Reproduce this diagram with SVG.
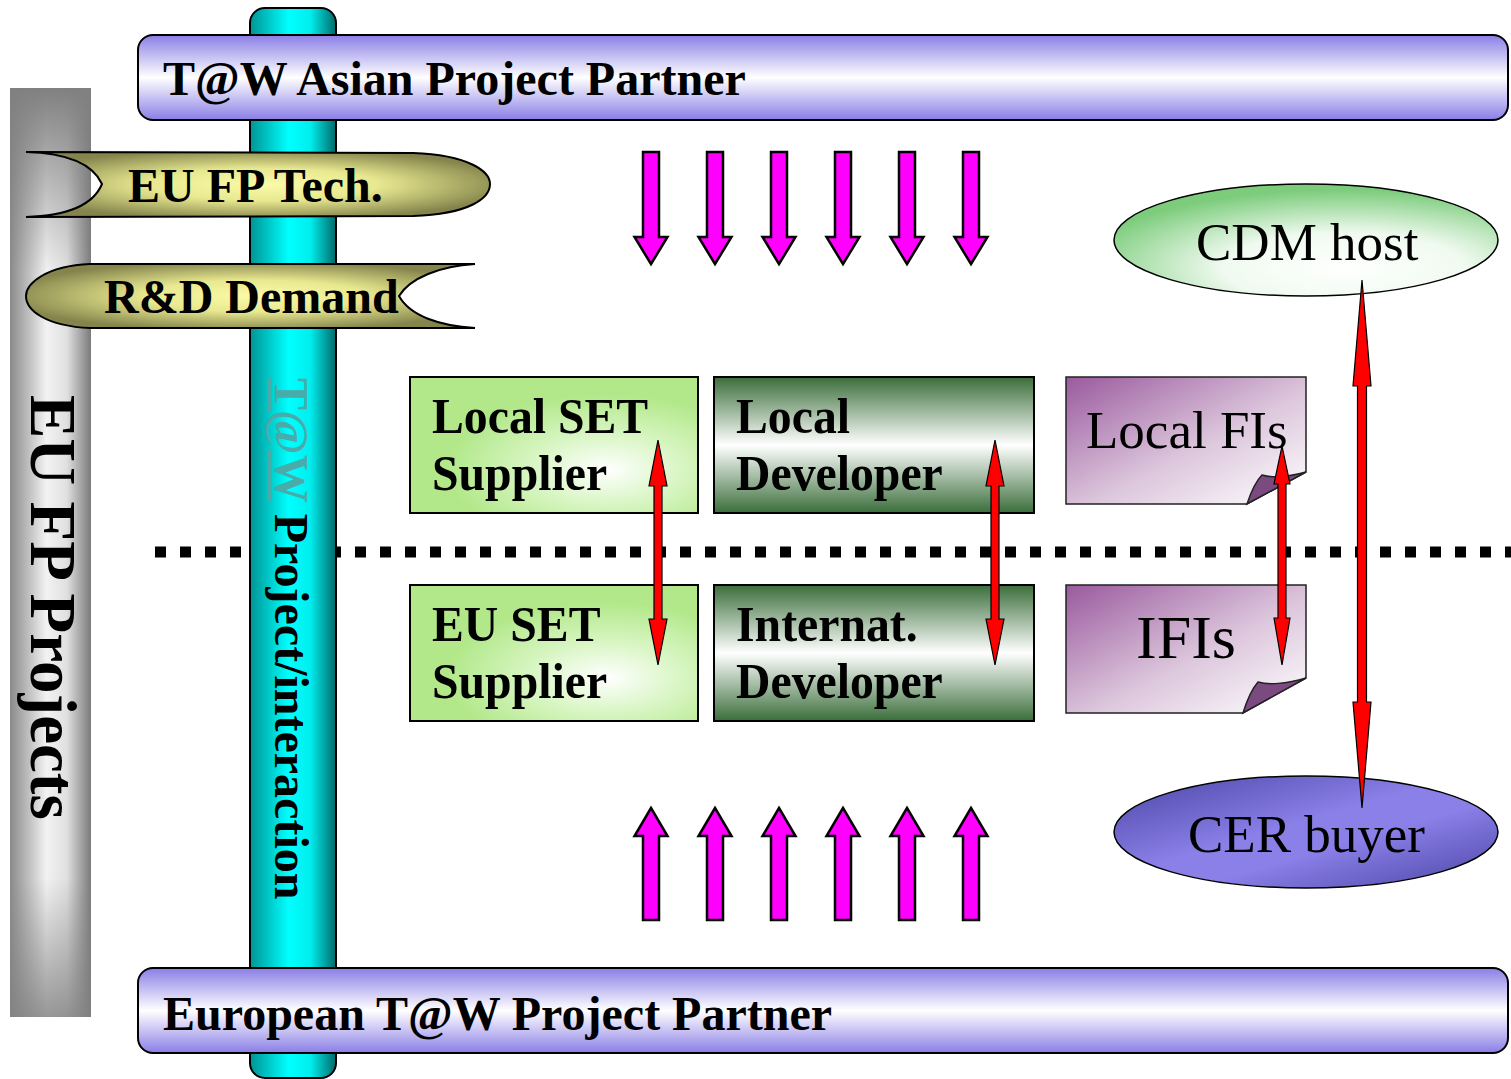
<svg xmlns="http://www.w3.org/2000/svg" width="1511" height="1079" viewBox="0 0 1511 1079">
<defs>
<linearGradient id="gGray" x1="0" y1="0" x2="1" y2="0">
<stop offset="0" stop-color="#8a8a8a"/><stop offset="0.45" stop-color="#f2f2f2"/><stop offset="0.7" stop-color="#e0e0e0"/><stop offset="1" stop-color="#7a7a7a"/>
</linearGradient>
<linearGradient id="gGrayV" x1="0" y1="0" x2="0" y2="1">
<stop offset="0" stop-color="#808080" stop-opacity="1"/><stop offset="0.2" stop-color="#808080" stop-opacity="0"/><stop offset="0.85" stop-color="#808080" stop-opacity="0"/><stop offset="1" stop-color="#808080" stop-opacity="0.8"/>
</linearGradient>
<linearGradient id="gPole" x1="0" y1="0" x2="1" y2="0">
<stop offset="0" stop-color="#009494"/><stop offset="0.45" stop-color="#00ffff"/><stop offset="0.7" stop-color="#00eeee"/><stop offset="1" stop-color="#006a6a"/>
</linearGradient>
<linearGradient id="gBar" x1="0" y1="0" x2="0" y2="1">
<stop offset="0" stop-color="#8a7ee6"/><stop offset="0.5" stop-color="#ffffff"/><stop offset="1" stop-color="#8a7ee6"/>
</linearGradient>
<radialGradient id="gBanner" cx="0.5" cy="0.5" r="0.55" fx="0.52" fy="0.5">
<stop offset="0" stop-color="#fbfba8"/><stop offset="0.45" stop-color="#e8e890"/><stop offset="1" stop-color="#84844c"/>
</radialGradient>
<radialGradient id="gLight" cx="0.68" cy="0.68" r="0.55">
<stop offset="0" stop-color="#ffffff"/><stop offset="0.5" stop-color="#d6f5c0"/><stop offset="1" stop-color="#b2e88a"/>
</radialGradient>
<linearGradient id="gDark" x1="0" y1="0" x2="0" y2="1">
<stop offset="0" stop-color="#3b6e3b"/><stop offset="0.5" stop-color="#ffffff"/><stop offset="1" stop-color="#3b6e3b"/>
</linearGradient>
<linearGradient id="gDoc" x1="0" y1="0" x2="1" y2="1">
<stop offset="0" stop-color="#9a5a9e"/><stop offset="0.55" stop-color="#dcc6dc"/><stop offset="1" stop-color="#ffffff"/>
</linearGradient>
<radialGradient id="gCdm" cx="0.6" cy="0.75" r="0.7">
<stop offset="0" stop-color="#ffffff"/><stop offset="0.45" stop-color="#f0faf0"/><stop offset="1" stop-color="#7ccc7c"/>
</radialGradient>
<linearGradient id="gCer" x1="0" y1="0" x2="1" y2="1">
<stop offset="0" stop-color="#4a44a4"/><stop offset="0.45" stop-color="#8a80e8"/><stop offset="0.6" stop-color="#8a80e8"/><stop offset="1" stop-color="#4a44a4"/>
</linearGradient>
<polygon id="downArrow" points="-8,152 8,152 8,237 16.5,237 0,264 -16.5,237 -8,237"/>
<polygon id="upArrow" points="0,808 16.5,836 8,836 8,920 -8,920 -8,836 -16.5,836"/>
</defs>
<style>
.lbl{font-family:"Liberation Serif","Times New Roman",serif;font-weight:bold;fill:#000}
.reg{font-family:"Liberation Serif","Times New Roman",serif;font-weight:normal;fill:#000}
.edge{stroke:#000;stroke-width:2}
.mag{fill:#ff00ff;stroke:#000;stroke-width:2.5;stroke-linejoin:miter}
.red{fill:#ff0000;stroke:#000;stroke-width:1.2}
.flap{fill:#7a4a80;stroke:#222;stroke-width:1.5}
</style>
<rect width="1511" height="1079" fill="#fff"/>

<g id="eu-fp-projects">
<rect x="10" y="88" width="81" height="929" fill="url(#gGray)"/>
<rect x="10" y="88" width="81" height="929" fill="url(#gGrayV)"/>
<text class="lbl" font-size="65" transform="translate(31,395) rotate(90)">EU FP Projects</text>
</g>

<g id="divider">
<line x1="155" y1="552" x2="1511" y2="552" stroke="#000" stroke-width="11" stroke-dasharray="11 14"/>
</g>

<g id="pole">
<rect x="250" y="8" width="86" height="1070" rx="15" fill="url(#gPole)" class="edge"/>
<text class="lbl" font-size="48" transform="translate(275,378) rotate(90)"><tspan fill="#4aabab" text-decoration="underline">T@W</tspan> Project/interaction</text>
</g>

<g id="asian-partner">
<rect x="138" y="35" width="1370" height="85" rx="15" fill="url(#gBar)" class="edge"/>
<text class="lbl" x="163" y="95" font-size="48">T@W Asian Project Partner</text>
</g>

<g id="european-partner">
<rect x="138" y="968" width="1370" height="85" rx="15" fill="url(#gBar)" class="edge"/>
<text class="lbl" x="163" y="1030" font-size="48">European T@W Project Partner</text>
</g>

<g id="eu-fp-tech">
<path d="M26,152 L413,153 C470,155 490,172 490,184 C490,198 470,214 413,216 L26,217 C62,216 92,208 102,184 C92,162 62,153 26,152 Z" fill="url(#gBanner)" class="edge"/>
<text class="lbl" x="128" y="202" font-size="48">EU FP Tech.</text>
</g>

<g id="rd-demand">
<path d="M475,264 L90,264 C45,266 26,284 26,296 C26,310 45,326 90,328 L475,328 C440,326 410,316 399,296 C410,278 440,266 475,264 Z" fill="url(#gBanner)" class="edge"/>
<text class="lbl" x="104" y="313" font-size="48">R&amp;D Demand</text>
</g>

<g id="local-set-supplier">
<rect x="410" y="377" width="288" height="136" fill="url(#gLight)" class="edge"/>
<text class="lbl" font-size="50" transform="translate(432,0) scale(0.955,1)"><tspan x="0" y="433">Local SET</tspan><tspan x="0" y="490">Supplier</tspan></text>
</g>

<g id="eu-set-supplier">
<rect x="410" y="585" width="288" height="136" fill="url(#gLight)" class="edge"/>
<text class="lbl" font-size="50" transform="translate(432,0) scale(0.955,1)"><tspan x="0" y="641">EU SET</tspan><tspan x="0" y="698">Supplier</tspan></text>
</g>

<g id="local-developer">
<rect x="714" y="377" width="320" height="136" fill="url(#gDark)" class="edge"/>
<text class="lbl" font-size="50" transform="translate(736,0) scale(0.955,1)"><tspan x="0" y="433">Local</tspan><tspan x="0" y="490">Developer</tspan></text>
</g>

<g id="internat-developer">
<rect x="714" y="585" width="320" height="136" fill="url(#gDark)" class="edge"/>
<text class="lbl" font-size="50" transform="translate(736,0) scale(0.955,1)"><tspan x="0" y="641">Internat.</tspan><tspan x="0" y="698">Developer</tspan></text>
</g>

<g id="local-fis">
<path d="M1066,377 H1306 V472 L1247,504 H1066 Z" fill="url(#gDoc)" stroke="#222" stroke-width="1.5"/>
<path d="M1247,504 C1251,492 1255,482 1262,475 C1272,478 1288,477 1306,472 Z" class="flap"/>
<text class="reg" x="1086" y="448" font-size="53">Local FIs</text>
</g>

<g id="ifis">
<path d="M1066,585 H1306 V678 L1243,713 H1066 Z" fill="url(#gDoc)" stroke="#222" stroke-width="1.5"/>
<path d="M1243,713 C1247,700 1251,690 1258,682 C1268,685 1286,684 1306,678 Z" class="flap"/>
<text class="reg" x="1136" y="658" font-size="62">IFIs</text>
</g>

<g id="cdm-host">
<ellipse cx="1306" cy="240" rx="192" ry="56" fill="url(#gCdm)" stroke="#000" stroke-width="1.5"/>
<text class="reg" x="1196" y="260" font-size="53">CDM host</text>
</g>

<g id="cer-buyer">
<ellipse cx="1306" cy="832" rx="192" ry="56" fill="url(#gCer)" stroke="#000" stroke-width="1.5"/>
<text class="reg" x="1188" y="852" font-size="53">CER buyer</text>
</g>

<g id="connectors">
<use href="#downArrow" class="mag" transform="translate(651,0)"/>
<use href="#downArrow" class="mag" transform="translate(715,0)"/>
<use href="#downArrow" class="mag" transform="translate(779,0)"/>
<use href="#downArrow" class="mag" transform="translate(843,0)"/>
<use href="#downArrow" class="mag" transform="translate(907,0)"/>
<use href="#downArrow" class="mag" transform="translate(971,0)"/>
<use href="#upArrow" class="mag" transform="translate(651,0)"/>
<use href="#upArrow" class="mag" transform="translate(715,0)"/>
<use href="#upArrow" class="mag" transform="translate(779,0)"/>
<use href="#upArrow" class="mag" transform="translate(843,0)"/>
<use href="#upArrow" class="mag" transform="translate(907,0)"/>
<use href="#upArrow" class="mag" transform="translate(971,0)"/>
<polygon class="red" points="658,440 667,486 662,486 662,619 667,619 658,665 649,619 654,619 654,486 649,486"/>
<polygon class="red" points="995,440 1004,486 999,486 999,619 1004,619 995,665 986,619 991,619 991,486 986,486"/>
<polygon class="red" points="1282,446 1290,484 1286,484 1286,618 1290,618 1282,665 1274,618 1278,618 1278,484 1274,484"/>
<polygon class="red" points="1362,280 1371,386 1366.5,386 1366.5,702 1371,702 1362,808 1353,702 1357.5,702 1357.5,386 1353,386"/>
</g>
</svg>
